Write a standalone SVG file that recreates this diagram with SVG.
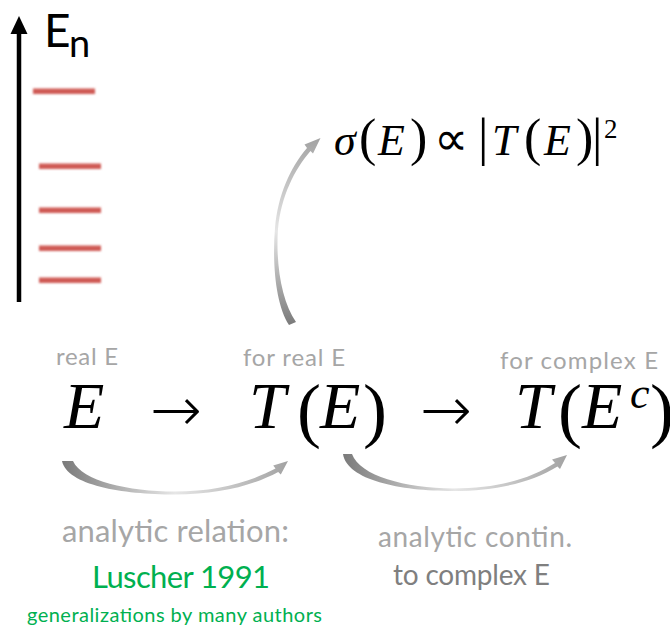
<svg xmlns="http://www.w3.org/2000/svg" width="670" height="627" viewBox="0 0 670 627">
<style>
.lbl{font-family:Lato,"Open Sans",sans-serif;}
.math{font-family:"Liberation Serif","Times New Roman",serif;fill:#000;}
.it{font-style:italic;}
.arr{font-family:"DejaVu Sans",sans-serif;font-weight:200;fill:#000;}
.lvl{fill:#cf5a55;filter:url(#soft);}
.gray{fill:#a6a6a6;}
.dgray{fill:#7f7f7f;}
.green{fill:#00b050;}
</style>
<defs>
<filter id="soft" filterUnits="userSpaceOnUse" x="0" y="0" width="670" height="627"><feGaussianBlur stdDeviation="0.9"/></filter>
<linearGradient id="gh" x1="0" y1="0" x2="1" y2="0">
<stop offset="0" stop-color="#7a7a7a"/><stop offset="0.5" stop-color="#e6e6e6"/><stop offset="1" stop-color="#a3a3a3"/>
</linearGradient>
<linearGradient id="gv" x1="0" y1="1" x2="0" y2="0">
<stop offset="0" stop-color="#7a7a7a"/><stop offset="0.5" stop-color="#e6e6e6"/><stop offset="1" stop-color="#a3a3a3"/>
</linearGradient>
</defs>

<g id="axis">
<line x1="19" y1="302" x2="19" y2="30" stroke="#000" stroke-width="4.5"/>
<polygon points="19,16 10.5,34 27.5,34" fill="#000"/>
<text class="lbl" x="44" y="47" font-size="46" fill="#000">E</text>
<text class="lbl" x="69" y="57" font-size="38" fill="#000">n</text>
</g>

<g id="levels">
<rect class="lvl" x="33" y="88.5" width="62" height="5.5"/>
<rect class="lvl" x="39" y="163.5" width="62" height="5.5"/>
<rect class="lvl" x="39" y="207.5" width="62" height="5.5"/>
<rect class="lvl" x="39" y="245.5" width="62" height="5.5"/>
<rect class="lvl" x="39" y="277.5" width="62" height="5.5"/>
</g>

<g id="cross-section">
<text class="math" y="155" font-size="44"><tspan class="it" x="334">σ</tspan><tspan x="359" font-size="52">(</tspan><tspan class="it" x="378">E</tspan><tspan x="410" font-size="52">)</tspan><tspan x="434" font-size="48">∝</tspan><tspan x="478" font-size="52">|</tspan><tspan class="it" x="492">T</tspan><tspan x="524" font-size="52">(</tspan><tspan class="it" x="544">E</tspan><tspan x="576" font-size="52">)</tspan><tspan x="592" font-size="52">|</tspan><tspan x="604" y="138" font-size="27">2</tspan></text>
</g>

<g id="node-E">
<text class="lbl gray" x="56" y="365" font-size="24" textLength="62">real E</text>
<text class="math it" x="64" y="428" font-size="66">E</text>
</g>
<text class="arr" x="150" y="431" font-size="62">→</text>

<g id="node-TE">
<text class="lbl gray" x="243" y="366" font-size="24" textLength="102">for real E</text>
<text class="math" y="428" font-size="66"><tspan class="it" x="249">T</tspan><tspan x="297" y="434" font-size="72">(</tspan><tspan class="it" x="320" y="428">E</tspan><tspan x="363" y="434" font-size="72">)</tspan></text>
</g>
<text class="arr" x="420" y="431" font-size="62">→</text>

<g id="node-TEc">
<text class="lbl gray" x="500" y="369" font-size="24" textLength="158">for complex E</text>
<text class="math" y="428" font-size="66"><tspan class="it" x="515">T</tspan><tspan x="558" y="434" font-size="72">(</tspan><tspan class="it" x="582" y="428">E</tspan><tspan class="it" x="630" y="408" font-size="44">c</tspan><tspan x="650" y="434" font-size="72">)</tspan></text>
</g>

<g id="connectors">
<path d="M289,325 C276,305 272,265 275,228 C278,195 290,168 307,148 L304.5,144.5 L320.5,138 L313,153.5 L310.5,151 C294,170 281,197 278,229 C275.5,265 282,302 296,322 Z" fill="url(#gv)"/>
<path d="M62,461 L73,461 C82,481 128,491.5 175,491.5 C216,491.5 250,482 275.5,468.6 L273.2,465.4 L288,461 L280.8,474.6 L278.2,472 C252,486 218,494.5 175,494.5 C122,494.5 67,485 62,461 Z" fill="url(#gh)"/>
<path d="M343,454 L352,454 C360,476 405,488 453,488.5 C497,488.5 530,479 555,463 L552,459.5 L567,455 L560,469 L557.5,466.5 C532,482 498,491 453,491 C400,491 347,480 343,454 Z" fill="url(#gh)"/>
</g>

<g id="note-relation">
<text class="lbl gray" x="62" y="542" font-size="31" textLength="227">analytic relation:</text>
<text class="lbl green" x="92" y="588" font-size="31" textLength="178">Luscher 1991</text>
<text class="lbl green" x="27" y="622" font-size="20" textLength="295">generalizations by many authors</text>
</g>

<g id="note-contin">
<text class="lbl gray" x="378" y="547" font-size="28" textLength="194">analytic contin.</text>
<text class="lbl dgray" x="393" y="585" font-size="28" textLength="157">to complex E</text>
</g>
</svg>
